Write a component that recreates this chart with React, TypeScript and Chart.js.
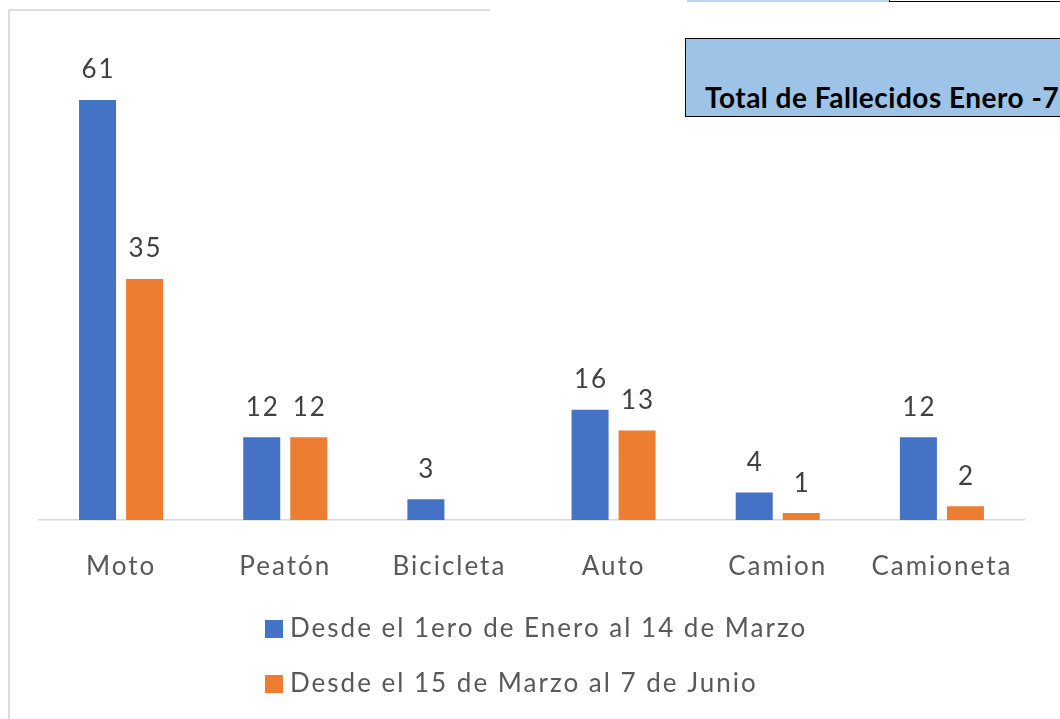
import React, { useEffect, useRef } from "react";
import { Chart, registerables } from "chart.js";

Chart.register(...registerables);

const categories = ["Moto", "Peatón", "Bicicleta", "Auto", "Camion", "Camioneta"];
const seriesNames = [
  "Desde el 1ero de Enero al 14 de Marzo",
  "Desde el 15 de Marzo al 7 de Junio",
];
const eneroAMarzo = [61, 12, 3, 16, 4, 12];
const marzoAJunio = [35, 12, 0, 13, 1, 2];
const seriesColors = ["#4472c4", "#ed7d31"];
const boxTitle = "Total de Fallecidos Enero -7";

const FONT = "Lato, 'Liberation Sans', sans-serif";

const spacing = {
  id: "spacing",
  beforeDraw(chart: any) {
    chart.ctx.letterSpacing = "2px";
  },
};

const valueLabels = {
  id: "valueLabels",
  afterDatasetsDraw(chart: any) {
    const ctx = chart.ctx;
    ctx.save();
    ctx.letterSpacing = "2px";
    ctx.font = `26px ${FONT}`;
    ctx.fillStyle = "#404040";
    ctx.textAlign = "center";
    ctx.textBaseline = "middle";
    chart.data.datasets.forEach((ds: any, di: number) => {
      const meta = chart.getDatasetMeta(di);
      meta.data.forEach((el: any, i: number) => {
        const v = ds.data[i];
        if (!v) return;
        ctx.fillText(String(v), el.x + 1, el.y - 30);
      });
    });
    ctx.restore();
  },
};

const columnLegend = {
  id: "columnLegend",
  afterDraw(chart: any) {
    const ctx = chart.ctx;
    ctx.save();
    ctx.letterSpacing = "2px";
    ctx.font = `26px ${FONT}`;
    ctx.textBaseline = "middle";
    ctx.textAlign = "left";
    chart.data.datasets.forEach((ds: any, di: number) => {
      const cy = 629 + di * 55;
      ctx.fillStyle = ds.backgroundColor;
      ctx.fillRect(265, cy - 9, 18, 18);
      ctx.fillStyle = "#595959";
      ctx.fillText(ds.label, 290, cy);
    });
    ctx.restore();
  },
};

export default function App() {
  const ref = useRef<HTMLCanvasElement | null>(null);
  useEffect(() => {
    if (!ref.current) return;
    const chart = new Chart(ref.current, {
      type: "bar",
      data: {
        labels: categories,
        datasets: [
          { label: seriesNames[0], data: eneroAMarzo, backgroundColor: seriesColors[0] },
          { label: seriesNames[1], data: marzoAJunio, backgroundColor: seriesColors[1] },
        ],
      },
      options: {
        animation: false,
        responsive: false,
        maintainAspectRatio: false,
        layout: { padding: { left: 39, right: 36, top: 38, bottom: 0 } },
        categoryPercentage: 0.573,
        barPercentage: 0.787,
        plugins: {
          legend: { display: false },
          tooltip: { enabled: false },
        },
        scales: {
          x: {
            grid: { display: false, drawTicks: false },
            border: { display: true, color: "#d9d9d9", width: 1.5 },
            ticks: {
              color: "#595959",
              font: { family: FONT, size: 26 },
              padding: 31,
              maxRotation: 0,
            },
            afterFit(scale: any) {
              scale.height = 199;
            },
          },
          y: {
            display: false,
            min: 0,
            max: 70,
          },
        },
      } as any,
      plugins: [spacing, valueLabels, columnLegend],
    });
    return () => chart.destroy();
  }, []);

  return (
    <div style={{ position: "fixed", left: 0, top: 0, width: 1060, height: 719, background: "#fff", overflow: "hidden" }}>
      <canvas ref={ref} width={1060} height={719} style={{ position: "absolute", left: 0, top: 0, width: 1060, height: 719 }} />
      <div style={{ position: "absolute", left: 8, top: 9, width: 482, height: 2, background: "#dcdcdc" }} />
      <div style={{ position: "absolute", left: 8, top: 9, width: 2, height: 710, background: "#dcdcdc" }} />
      <div style={{ position: "absolute", left: 687, top: 0, width: 202, height: 2, background: "#bdd7ee" }} />
      <div style={{ position: "absolute", left: 889, top: -2, width: 200, height: 4, borderLeft: "1.5px solid #000", borderBottom: "1.5px solid #000", boxSizing: "border-box" }} />
      <div
        style={{
          position: "absolute",
          left: 685,
          top: 38,
          width: 420,
          height: 79,
          background: "#9dc3e6",
          border: "1.5px solid #000",
          boxSizing: "border-box",
          overflow: "hidden",
        }}
      >
        <div
          style={{
            position: "absolute",
            left: 19,
            top: 41,
            fontFamily: FONT,
            fontWeight: 700,
            fontSize: 28,
            lineHeight: "34px",
            letterSpacing: "0.5px",
            color: "#000",
            whiteSpace: "nowrap",
          }}
        >
          {boxTitle}
        </div>
      </div>
    </div>
  );
}
